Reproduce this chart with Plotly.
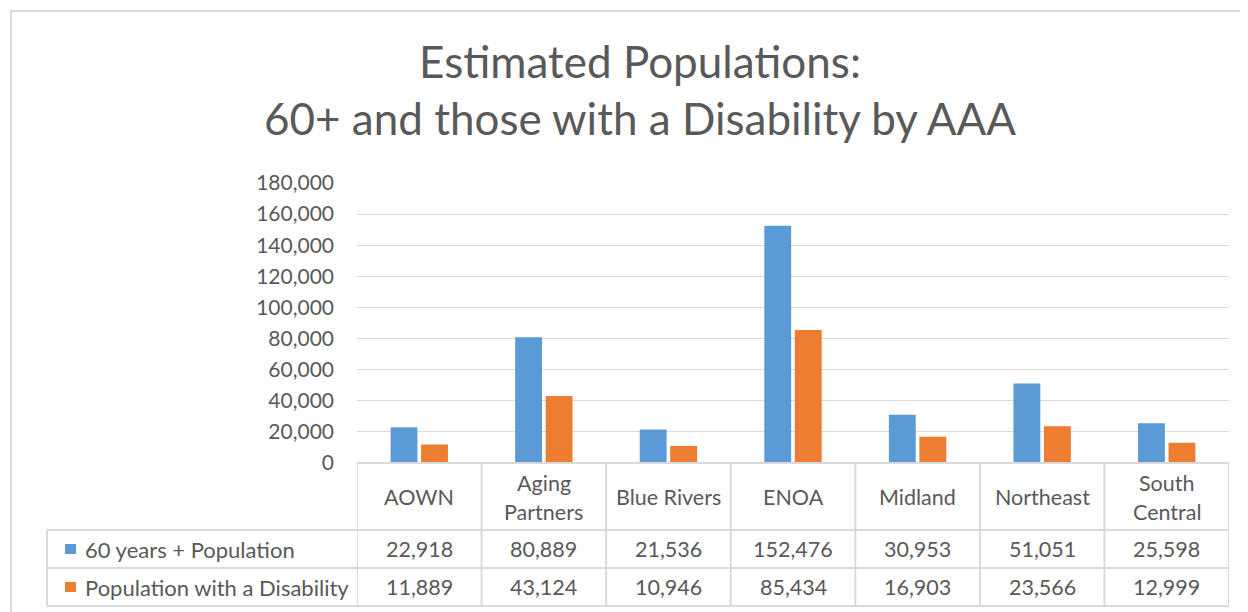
import plotly.graph_objects as go

categories = ["AOWN", "Aging Partners", "Blue Rivers", "ENOA", "Midland", "Northeast", "South Central"]
header_labels = [["AOWN"], ["Aging", "Partners"], ["Blue Rivers"], ["ENOA"], ["Midland"], ["Northeast"], ["South", "Central"]]
series_names = ["60 years + Population", "Population with a Disability"]
pop_60plus = [22918, 80889, 21536, 152476, 30953, 51051, 25598]
pop_disability = [11889, 43124, 10946, 85434, 16903, 23566, 12999]
y_ticks = [0, 20000, 40000, 60000, 80000, 100000, 120000, 140000, 160000, 180000]

colors = ["#5B9BD5", "#ED7D31"]
TXT = "#595959"
GRID = "#D9D9D9"
FONT = "Lato"

OFF = 8  # page body margin
W_FIG, H_FIG = 1248, 612
# target positions in the screenshot
SL, SR, ST, SB = 357, 1229, 183, 463
L, R, T, B = SL - OFF, SR - OFF, ST - OFF, SB - OFF
PW, PH = R - L, B - T


def px(x):
    return (x - SL) / PW


def py(y):
    return (SB - y) / PH


fig = go.Figure()
for name, vals, col in zip(series_names, [pop_60plus, pop_disability], colors):
    fig.add_trace(go.Bar(x=categories, y=vals, name=name, marker=dict(color=col, line=dict(width=0)),
                         showlegend=False, hoverinfo="x+y"))

shapes = []
shapes.append(dict(type="rect", xref="paper", yref="paper", x0=px(11), x1=px(1270), y0=py(11), y1=py(640),
                   line=dict(color=GRID, width=2), layer="below"))
shapes.append(dict(type="line", xref="paper", yref="paper", x0=0, x1=1, y0=0, y1=0, line=dict(color=GRID, width=2)))
for yy in [530, 568, 606]:
    shapes.append(dict(type="line", xref="paper", yref="paper", x0=px(47), x1=1, y0=py(yy), y1=py(yy),
                       line=dict(color=GRID, width=2)))
for i in range(len(categories) + 1):
    shapes.append(dict(type="line", xref="x", yref="paper", x0=i - 0.5, x1=i - 0.5, y0=0, y1=py(606),
                       line=dict(color=GRID, width=2)))
shapes.append(dict(type="line", xref="paper", yref="paper", x0=px(47), x1=px(47), y0=py(530), y1=py(606),
                   line=dict(color=GRID, width=2)))

annotations = []
row_y = [549, 587]
for r, (name, vals, col) in enumerate(zip(series_names, [pop_60plus, pop_disability], colors)):
    yy = row_y[r]
    shapes.append(dict(type="rect", xref="paper", yref="paper", x0=px(65), x1=px(76), y0=py(yy - 5), y1=py(yy + 5),
                       fillcolor=col, line=dict(width=0)))
    annotations.append(dict(xref="paper", yref="paper", x=px(83), y=py(yy), text=name, showarrow=False,
                            xanchor="left", yanchor="middle", font=dict(family=FONT, size=22, color=TXT)))
    for i, v in enumerate(vals):
        annotations.append(dict(xref="x", yref="paper", x=i, y=py(yy), text=f"{v:,}", showarrow=False,
                                xanchor="center", yanchor="middle", font=dict(family=FONT, size=21.5, color=TXT)))

for i, lines in enumerate(header_labels):
    ys = [497] if len(lines) == 1 else [483, 512]
    for ln, yy in zip(lines, ys):
        annotations.append(dict(xref="x", yref="paper", x=i, y=py(yy), text=ln, showarrow=False,
                                xanchor="center", yanchor="middle", font=dict(family=FONT, size=21.5, color=TXT)))

fig.update_layout(
    width=W_FIG, height=H_FIG,
    margin=dict(l=L, r=W_FIG - R, t=T, b=H_FIG - B, autoexpand=False),
    paper_bgcolor="white", plot_bgcolor="white",
    title=dict(text="Estimated Populations:<br>60+ and those with a Disability by AAA",
               x=(640 - OFF) / W_FIG, xref="container", xanchor="center",
               y=1 - (78 - OFF) / H_FIG, yref="container", yanchor="middle",
               font=dict(family=FONT, size=44, color=TXT)),
    barmode="group", bargap=0.51, bargroupgap=0.12,
    xaxis=dict(range=[-0.5, len(categories) - 0.5], showticklabels=False, showgrid=False, zeroline=False,
               showline=False, ticks=""),
    yaxis=dict(range=[0, 180000], tickvals=y_ticks, tickformat=",", showgrid=True, gridcolor=GRID, gridwidth=1,
               zeroline=False, showline=False, ticks="", ticklabelstandoff=22,
               tickfont=dict(family=FONT, size=21, color=TXT)),
    shapes=shapes,
    annotations=annotations,
)

fig.write_html("out.html")
